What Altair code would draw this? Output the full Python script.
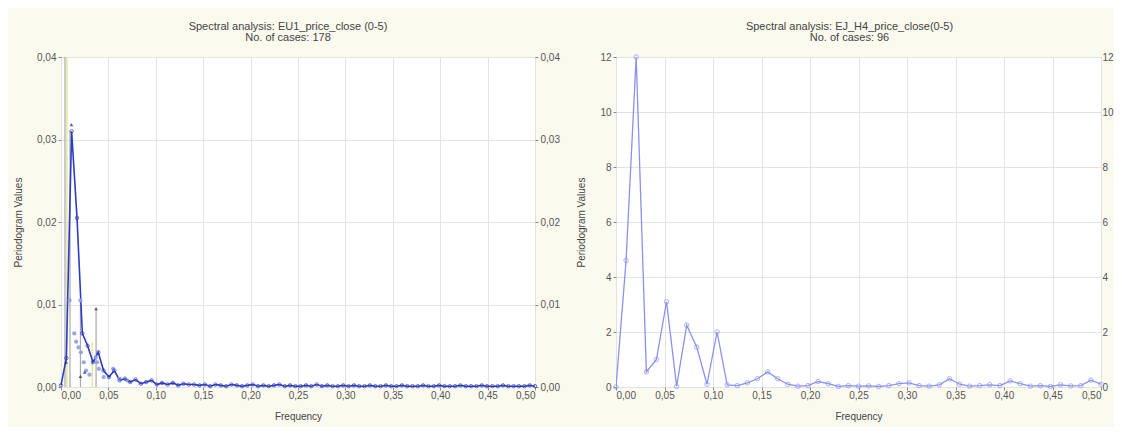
import altair as alt
import pandas as pd

# ---------------- Left panel data (178 cases) ----------------
L_FREQ = [0.0000, 0.0056, 0.0112, 0.0169, 0.0225, 0.0281, 0.0337, 0.0393, 0.0449, 0.0506,
          0.0562, 0.0618, 0.0674, 0.0730, 0.0787, 0.0843, 0.0899, 0.0955, 0.1011, 0.1067,
          0.1124, 0.1180, 0.1236, 0.1292, 0.1348, 0.1404, 0.1461, 0.1517, 0.1573, 0.1629,
          0.1685, 0.1742, 0.1798, 0.1854, 0.1910, 0.1966, 0.2022, 0.2079, 0.2135, 0.2191,
          0.2247, 0.2303, 0.2360, 0.2416, 0.2472, 0.2528, 0.2584, 0.2640, 0.2697, 0.2753,
          0.2809, 0.2865, 0.2921, 0.2978, 0.3034, 0.3090, 0.3146, 0.3202, 0.3258, 0.3315,
          0.3371, 0.3427, 0.3483, 0.3539, 0.3596, 0.3652, 0.3708, 0.3764, 0.3820, 0.3876,
          0.3933, 0.3989, 0.4045, 0.4101, 0.4157, 0.4213, 0.4270, 0.4326, 0.4382, 0.4438,
          0.4494, 0.4551, 0.4607, 0.4663, 0.4719, 0.4775, 0.4831, 0.4888, 0.4944, 0.5000]
L_VAL = [0.0002, 0.0035, 0.0310, 0.0205, 0.0065, 0.0050, 0.0030, 0.0042, 0.0020, 0.0012,
         0.0020, 0.0008, 0.0010, 0.0006, 0.0009, 0.0004, 0.0006, 0.0008, 0.0003, 0.0005,
         0.0003, 0.0005, 0.0002, 0.0004, 0.0003, 0.0003, 0.0002, 0.0003, 0.0001, 0.0003,
         0.0002, 0.0001, 0.0003, 0.0002, 0.0001, 0.0002, 0.0003, 0.0001, 0.0002, 0.0001,
         0.0002, 0.0003, 0.0001, 0.0002, 0.0001, 0.0001, 0.0002, 0.0001, 0.0003, 0.0001,
         0.0002, 0.0001, 0.0001, 0.0002, 0.0001, 0.0002, 0.0001, 0.0001, 0.0002, 0.0001,
         0.0001, 0.0002, 0.0001, 0.0001, 0.0002, 0.0001, 0.0001, 0.0001, 0.0002, 0.0001,
         0.0001, 0.0002, 0.0001, 0.0001, 0.0001, 0.0002, 0.0001, 0.0001, 0.0001, 0.0002,
         0.0001, 0.0001, 0.0001, 0.0002, 0.0001, 0.0001, 0.0001, 0.0001, 0.0002, 0.0001]
L_SEC_FREQ = [0.0090, 0.0205, 0.0140, 0.0160, 0.0185, 0.0210, 0.0240, 0.0265, 0.0300,
              0.0365, 0.0380, 0.0400, 0.0450, 0.0550, 0.0620, 0.0700]
L_SEC_VAL = [0.0105, 0.0105, 0.0065, 0.0055, 0.0048, 0.0042, 0.0030, 0.0020, 0.0015,
             0.0036, 0.0030, 0.0022, 0.0012, 0.0022, 0.0010, 0.0008]
L_GRAY_FREQ = [0.0042, 0.0095, 0.0205, 0.0370]
L_GRAY_VAL = [0.0400, 0.0310, 0.0105, 0.0095]
L_YEL_FREQ = [0.0062, 0.0330]
L_YEL_VAL = [0.0400, 0.0055]
L_DARK_FREQ = [0.0055, 0.0110, 0.0205, 0.0370, 0.0250]
L_DARK_VAL = [0.0030, 0.0318, 0.0013, 0.0095, 0.0018]

L_XTICKS = [0.0, 0.05, 0.10, 0.15, 0.20, 0.25, 0.30, 0.35, 0.40, 0.45, 0.50]
L_YTICKS = [0.0, 0.01, 0.02, 0.03, 0.04]

# ---------------- Right panel data (96 cases) ----------------
R_FREQ = [0.0000, 0.0104, 0.0208, 0.0313, 0.0417, 0.0521, 0.0625, 0.0729, 0.0833, 0.0938,
          0.1042, 0.1146, 0.1250, 0.1354, 0.1458, 0.1563, 0.1667, 0.1771, 0.1875, 0.1979,
          0.2083, 0.2188, 0.2292, 0.2396, 0.2500, 0.2604, 0.2708, 0.2813, 0.2917, 0.3021,
          0.3125, 0.3229, 0.3333, 0.3438, 0.3542, 0.3646, 0.3750, 0.3854, 0.3958, 0.4063,
          0.4167, 0.4271, 0.4375, 0.4479, 0.4583, 0.4688, 0.4792, 0.4896, 0.5000]
R_VAL = [0.00, 4.60, 12.00, 0.55, 1.00, 3.10, 0.02, 2.25, 1.45, 0.10,
         2.00, 0.08, 0.05, 0.15, 0.30, 0.55, 0.30, 0.10, 0.03, 0.05,
         0.20, 0.12, 0.02, 0.05, 0.03, 0.04, 0.02, 0.05, 0.12, 0.15,
         0.05, 0.03, 0.08, 0.30, 0.10, 0.03, 0.05, 0.08, 0.05, 0.22,
         0.12, 0.03, 0.05, 0.02, 0.08, 0.04, 0.05, 0.25, 0.10]
R_XTICKS = [0.0, 0.05, 0.10, 0.15, 0.20, 0.25, 0.30, 0.35, 0.40, 0.45, 0.50]
R_YTICKS = [0, 2, 4, 6, 8, 10, 12]

COMMA = "replace(format(datum.value, '.2f'), '.', ',')"

def x_enc(ticks):
    return alt.X("f:Q", scale=alt.Scale(domain=[0, 0.5], nice=False, zero=False),
                 axis=alt.Axis(values=ticks, labelExpr=COMMA, title="Frequency",
                               grid=True, tickSize=3, labelPadding=0, titlePadding=11))

def y_enc(dom, ticks, expr, orient="left", tick=3, pad=2):
    ax = alt.Axis(values=ticks, labelExpr=expr, orient=orient, grid=(orient == "left"),
                  title=("Periodogram Values" if orient == "left" else None),
                  tickSize=tick, labelPadding=pad, titlePadding=13)
    return alt.Y("v:Q", scale=alt.Scale(domain=dom, nice=False), axis=ax)

# ---------- left chart ----------
dL = pd.DataFrame({"f": L_FREQ, "v": L_VAL})
dS = pd.DataFrame({"f": L_SEC_FREQ, "v": L_SEC_VAL})
dG = pd.DataFrame({"f": L_GRAY_FREQ, "v": L_GRAY_VAL})
dY = pd.DataFrame({"f": L_YEL_FREQ, "v": L_YEL_VAL})
dD = pd.DataFrame({"f": L_DARK_FREQ, "v": L_DARK_VAL})
LD = [0, 0.04]

xl = x_enc(L_XTICKS)
yl = y_enc(LD, L_YTICKS, COMMA)

gray = alt.Chart(dG).mark_rule(color="#a8a8a8", strokeWidth=1.2, clip=True).encode(x=xl, y=yl, y2=alt.datum(0))
yel = alt.Chart(dY).mark_rule(color="#e6ea9a", strokeWidth=1.5, clip=True).encode(x=xl, y=yl, y2=alt.datum(0))
line = alt.Chart(dL).mark_line(color="#2c3cc4", strokeWidth=1.6).encode(x=xl, y=yl)
pts = alt.Chart(dL).mark_point(shape="circle", filled=False, size=12, color="#2a38b8", strokeWidth=1).encode(x=xl, y=yl)
sec = alt.Chart(dS).mark_point(shape="circle", filled=True, size=18, color="#8d9de3", opacity=0.9).encode(x=xl, y=yl)
dark = alt.Chart(dD).mark_point(shape="triangle-up", filled=True, size=14, color="#1b2070").encode(x=xl, y=yl)
left_main = alt.layer(yel, gray, line, sec, pts, dark)
left_right_axis = alt.Chart(dL).mark_point(opacity=0).encode(
    x=xl, y=y_enc(LD, L_YTICKS, COMMA, orient="right"))
left = alt.layer(left_main, left_right_axis).resolve_scale(y="independent").properties(
    width=474, height=330,
    title=alt.TitleParams(["Spectral analysis: EU1_price_close (0-5)", "No. of cases: 178"], dx=-10))

# ---------- right chart ----------
dR = pd.DataFrame({"f": R_FREQ, "v": R_VAL})
RD = [0, 12]
xr = x_enc(R_XTICKS)
yr = y_enc(RD, R_YTICKS, "format(datum.value, 'd')")
rline = alt.Chart(dR).mark_line(color="#8a91f0", strokeWidth=1.3, clip=True).encode(x=xr, y=yr)
rpts = alt.Chart(dR).mark_point(shape="circle", filled=False, size=20, color="#8a91f0", strokeWidth=1).encode(x=xr, y=yr)
right_main = alt.layer(rline, rpts)
right_right_axis = alt.Chart(dR).mark_point(opacity=0).encode(
    x=xr, y=y_enc(RD, R_YTICKS, "format(datum.value, 'd')", orient="right", tick=0, pad=1))
right = alt.layer(right_main, right_right_axis).resolve_scale(y="independent").properties(
    width=485, height=330,
    title=alt.TitleParams(["Spectral analysis: EJ_H4_price_close(0-5)", "No. of cases: 96"], dx=-9))

chart = alt.hconcat(left, right, spacing=16).properties(
    padding={"top": 12, "left": 5, "right": 0, "bottom": 5},
    background="#fbfaee",
).configure_axis(
    labelFont="Liberation Sans", labelFontSize=10, labelColor="#555555",
    titleFont="Liberation Sans", titleFontSize=10, titleFontWeight="normal", titleColor="#444444",
    tickColor="#888888", gridColor="#e3e3e3", domain=False,
).configure_view(
    stroke="#8c8c8c", strokeWidth=1, fill="white"
).configure_title(
    font="Liberation Sans", fontSize=11, fontWeight="normal", color="#444444",
    anchor="middle", lineHeight=11, offset=9,
)

chart.save("out.html", embed_options={"renderer": "svg", "actions": False})
